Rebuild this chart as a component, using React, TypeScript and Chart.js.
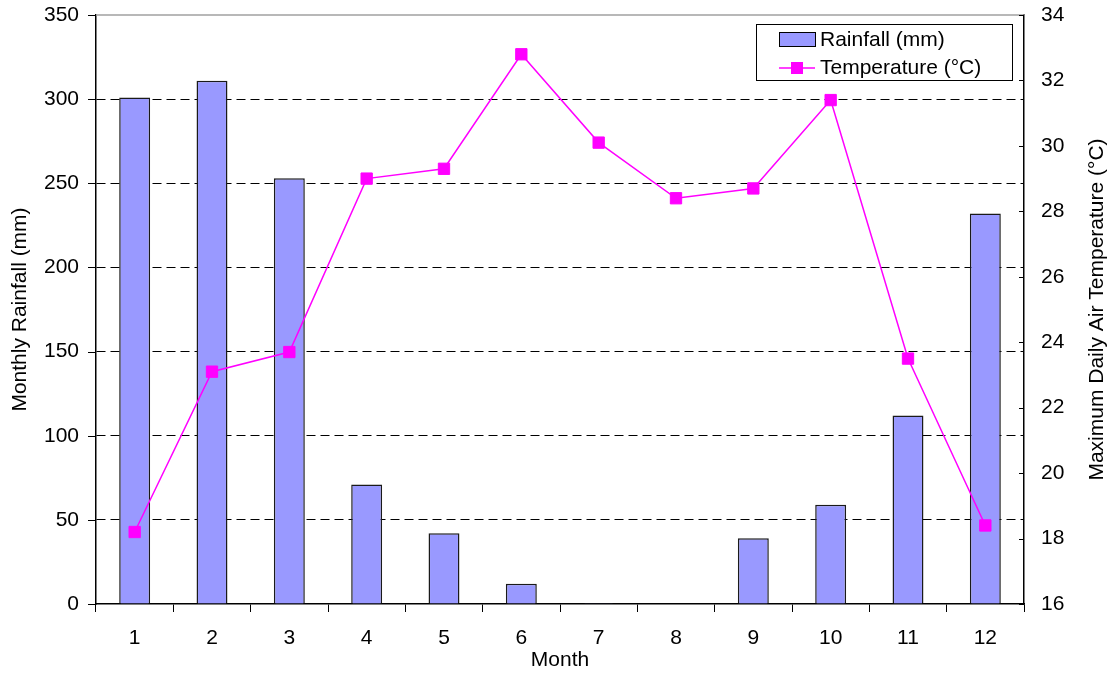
import React, { useEffect, useRef } from 'react';
import { Chart, registerables } from 'chart.js';
Chart.register(...registerables);

const months = ['1', '2', '3', '4', '5', '6', '7', '8', '9', '10', '11', '12'];
const rainfall = [301, 311, 253, 71, 42, 12, 0.5, 0, 39, 59, 112, 232];
const temperature = [18.2, 23.1, 23.7, 29.0, 29.3, 32.8, 30.1, 28.4, 28.7, 31.4, 23.5, 18.4];
const rainLabel = 'Rainfall (mm)';
const tempLabel = 'Temperature (°C)';
const xTitle = 'Month';
const yTitle = 'Monthly Rainfall (mm)';
const y1Title = 'Maximum Daily Air Temperature (°C)';

const FONT = '"Liberation Sans", Arial, sans-serif';
const FS = 21;
const BAR_COLOR = '#9999FF';
const LINE_COLOR = '#FF00FF';

const decor = {
  id: 'decor',
  afterDraw(chart: any) {
    const { ctx, chartArea } = chart;
    const { left, right, top, bottom } = chartArea;
    ctx.save();
    // top border
    ctx.strokeStyle = '#a0a0a0';
    ctx.lineWidth = 1.5;
    ctx.beginPath();
    ctx.moveTo(left, top);
    ctx.lineTo(right, top);
    ctx.stroke();
    // left axis ticks (outside)
    ctx.strokeStyle = '#000';
    ctx.lineWidth = 1;
    const y = chart.scales.y;
    y.ticks.forEach((t: any, i: number) => {
      const py = Math.round(y.getPixelForTick(i)) + 0.5;
      ctx.beginPath();
      ctx.moveTo(left - 8, py);
      ctx.lineTo(left, py);
      ctx.stroke();
    });
    // right axis ticks (inside)
    const y1 = chart.scales.y1;
    y1.ticks.forEach((t: any, i: number) => {
      const py = Math.round(y1.getPixelForTick(i)) + 0.5;
      ctx.beginPath();
      ctx.moveTo(right - 5, py);
      ctx.lineTo(right, py);
      ctx.stroke();
    });
    // titles
    ctx.fillStyle = '#000';
    ctx.font = `${FS}px ${FONT}`;
    ctx.textAlign = 'center';
    ctx.textBaseline = 'middle';
    ctx.fillText(xTitle, (left + right) / 2, 660);
    const midY = (top + bottom) / 2;
    ctx.save();
    ctx.translate(20, midY);
    ctx.rotate(-Math.PI / 2);
    ctx.fillText(yTitle, 0, 0);
    ctx.restore();
    ctx.save();
    ctx.translate(1097, midY);
    ctx.rotate(-Math.PI / 2);
    ctx.fillText(y1Title, 0, 0);
    ctx.restore();
    // legend
    const lx = right - 268;
    const ly = top + 9;
    ctx.fillStyle = '#fff';
    ctx.fillRect(lx, ly, 256, 56);
    ctx.strokeStyle = '#000';
    ctx.lineWidth = 1;
    ctx.strokeRect(lx + 0.5, ly + 0.5, 256, 56);
    ctx.fillStyle = BAR_COLOR;
    ctx.fillRect(lx + 23, ly + 8, 36, 14);
    ctx.strokeRect(lx + 23.5, ly + 8.5, 36, 14);
    ctx.strokeStyle = LINE_COLOR;
    ctx.lineWidth = 1.5;
    ctx.beginPath();
    ctx.moveTo(lx + 23, ly + 44);
    ctx.lineTo(lx + 59, ly + 44);
    ctx.stroke();
    ctx.fillStyle = LINE_COLOR;
    ctx.fillRect(lx + 35, ly + 38, 12, 12);
    ctx.fillStyle = '#000';
    ctx.textAlign = 'left';
    ctx.fillText(rainLabel, lx + 64, ly + 16);
    ctx.fillText(tempLabel, lx + 64, ly + 44);
    ctx.restore();
  },
};

export default function App() {
  const ref = useRef<HTMLCanvasElement>(null);
  useEffect(() => {
    document.body.style.margin = '0';
    const chart = new Chart(ref.current as HTMLCanvasElement, {
      type: 'bar',
      data: {
        labels: months,
        datasets: [
          {
            type: 'line',
            label: tempLabel,
            data: temperature,
            yAxisID: 'y1',
            borderColor: LINE_COLOR,
            backgroundColor: LINE_COLOR,
            borderWidth: 1.5,
            pointStyle: 'rect',
            pointRadius: 8,
            pointBorderWidth: 1,
            pointBackgroundColor: LINE_COLOR,
            pointBorderColor: LINE_COLOR,
            tension: 0,
            order: 0,
          } as any,
          {
            type: 'bar',
            label: rainLabel,
            data: rainfall,
            yAxisID: 'y',
            backgroundColor: BAR_COLOR,
            borderColor: '#1a1a1a',
            borderWidth: 1.5,
            barPercentage: 0.4,
            categoryPercentage: 1,
            order: 1,
          },
        ],
      },
      options: {
        animation: false,
        responsive: true,
        maintainAspectRatio: false,
        devicePixelRatio: 1,
        layout: { padding: { top: 15, left: 0, right: 0, bottom: 0 } },
        plugins: { legend: { display: false }, tooltip: { enabled: false } },
        scales: {
          x: {
            offset: true,
            grid: {
              offset: true,
              drawOnChartArea: false,
              tickLength: 8,
              tickColor: '#000',
            },
            border: { display: true, color: '#000', width: 1.5 },
            ticks: { color: '#000', font: { family: FONT, size: FS }, padding: 14, maxRotation: 0 },
            afterFit: (s: any) => { s.height = 73; },
          },
          y: {
            position: 'left',
            min: 0,
            max: 350,
            ticks: { stepSize: 50, color: '#000', font: { family: FONT, size: FS }, padding: 2 },
            grid: {
              color: (c: any) => (c.tick && (c.tick.value === 0 || c.tick.value === 350) ? 'rgba(0,0,0,0)' : '#000'),
              lineWidth: 1,
              tickColor: 'rgba(0,0,0,0)',
              tickLength: 15,
              tickBorderDash: [],
            } as any,
            border: { display: true, color: '#000', width: 1.5, dash: [9, 5] } as any,
            afterFit: (s: any) => { s.width = 96; },
          },
          y1: {
            position: 'right',
            min: 16,
            max: 34,
            ticks: { stepSize: 2, color: '#000', font: { family: FONT, size: FS }, padding: 2 },
            grid: { display: true, drawOnChartArea: false, tickLength: 15, tickColor: 'rgba(0,0,0,0)' },
            border: { display: true, color: '#000', width: 1.5 },
            afterFit: (s: any) => { s.width = 90; },
          },
        },
      },
      plugins: [decor],
    });
    return () => chart.destroy();
  }, []);
  return (
    <div style={{ position: 'fixed', left: 0, top: 0, width: 1114, height: 677, background: '#fff' }}>
      <canvas ref={ref} />
    </div>
  );
}
